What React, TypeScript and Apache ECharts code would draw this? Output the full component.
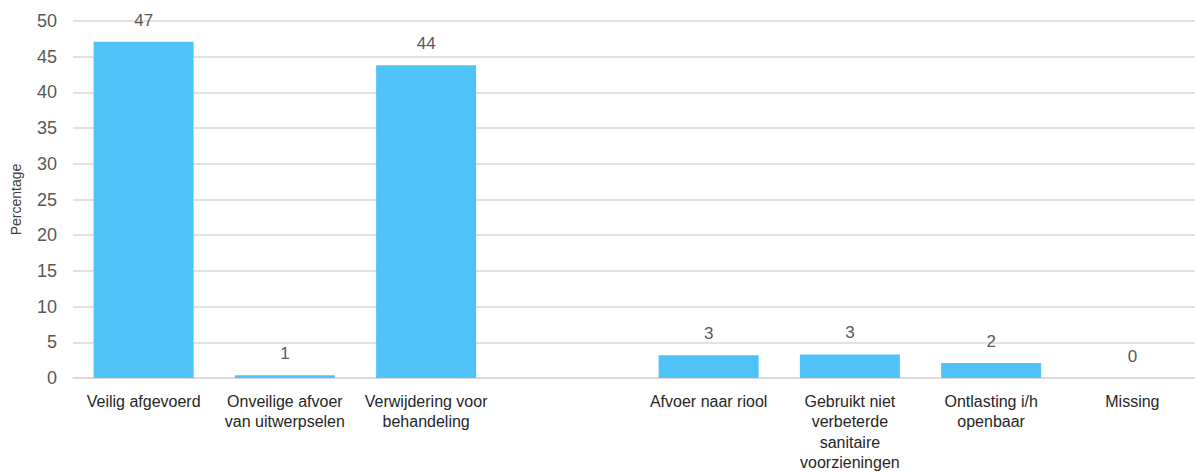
import React, { useEffect, useRef } from "react";
import * as echarts from "echarts";

const categories = [
  "Veilig afgevoerd",
  "Onveilige afvoer\nvan uitwerpselen",
  "Verwijdering voor\nbehandeling",
  "",
  "Afvoer naar riool",
  "Gebruikt niet\nverbeterde\nsanitaire\nvoorzieningen",
  "Ontlasting i/h\nopenbaar",
  "Missing",
];
const values: (number | null)[] = [47.1, 0.4, 43.8, null, 3.2, 3.3, 2.1, 0];
const valueLabels = ["47", "1", "44", "", "3", "3", "2", "0"];
const yTicks = { min: 0, max: 50, interval: 5 };

export default function App() {
  const ref = useRef<HTMLDivElement>(null);
  useEffect(() => {
    document.body.style.margin = "0";
    const chart = echarts.init(ref.current!, null, { renderer: "svg" });
    const font = "'Liberation Sans', Arial, sans-serif";
    chart.setOption({
      animation: false,
      grid: {
        left: 73,
        top: 21,
        width: 1130,
        height: 357,
        containLabel: false,
        outerBoundsMode: "none",
      },
      xAxis: {
        type: "category",
        data: categories,
        axisLine: { show: true, lineStyle: { color: "#d9d9d9", width: 1.5 } },
        axisTick: { show: false },
        axisLabel: {
          interval: 0,
          color: "#262626",
          fontFamily: font,
          fontSize: 16,
          lineHeight: 20.5,
          margin: 13,
        },
      },
      yAxis: {
        type: "value",
        min: yTicks.min,
        max: yTicks.max,
        interval: yTicks.interval,
        name: "Percentage",
        nameLocation: "middle",
        nameGap: 50,
        nameTextStyle: { color: "#404040", fontFamily: font, fontSize: 14 },
        axisLine: { show: false },
        axisTick: { show: false },
        axisLabel: { color: "#595959", fontFamily: font, fontSize: 18, margin: 16 },
        splitLine: { lineStyle: { color: "#d9d9d9", width: 1.5 } },
      },
      series: [
        {
          type: "bar",
          data: values,
          barWidth: 100,
          itemStyle: { color: "#4fc3f7" },
          label: {
            show: true,
            position: "top",
            distance: 13,
            color: "#595959",
            fontFamily: font,
            fontSize: 17,
            formatter: (p: any) => valueLabels[p.dataIndex],
          },
        },
      ],
    });
    return () => chart.dispose();
  }, []);
  return <div ref={ref} style={{ width: 1195, height: 473 }} />;
}
